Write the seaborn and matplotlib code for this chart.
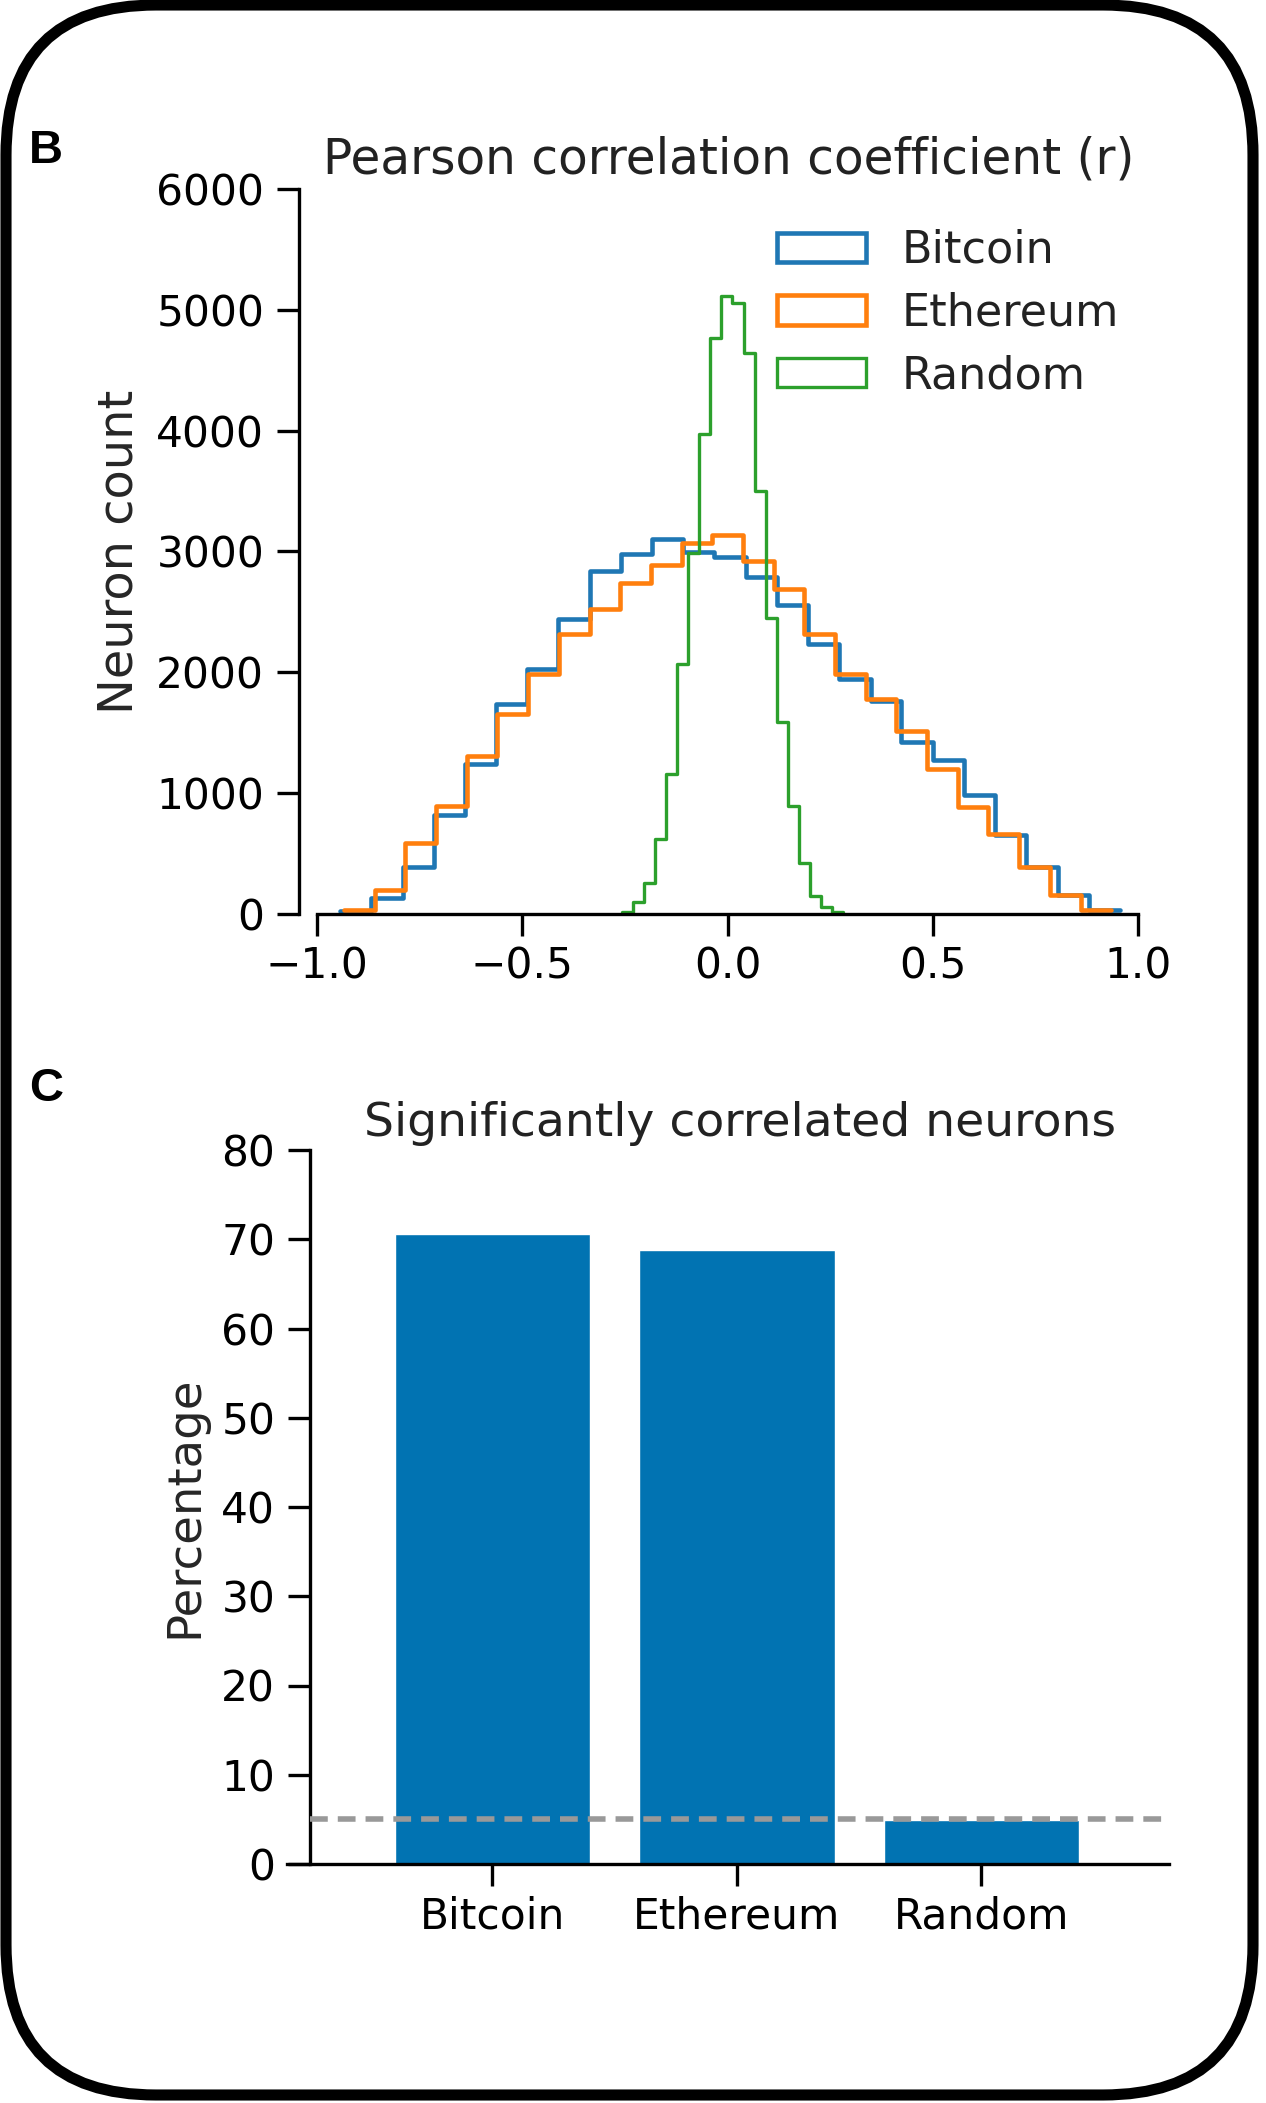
import numpy as np
import pandas as pd
import seaborn as sns
import matplotlib.pyplot as plt
from matplotlib.patches import Patch, FancyBboxPatch
from matplotlib.transforms import IdentityTransform

# panel B: histogram bin edges and neuron counts
btc_edges = [-0.943, -0.867, -0.791, -0.715, -0.640, -0.564, -0.488, -0.412, -0.336,
             -0.260, -0.184, -0.108, -0.032, 0.044, 0.120, 0.196, 0.272, 0.348,
             0.423, 0.499, 0.575, 0.651, 0.727, 0.803, 0.879, 0.955]
btc_counts = [25, 132, 390, 817, 1243, 1738, 2027, 2440, 2838, 2976, 3100, 2995, 2954,
              2789, 2558, 2233, 1944, 1766, 1422, 1271, 982, 652, 390, 157, 33]

eth_edges = [-0.934, -0.859, -0.784, -0.710, -0.635, -0.560, -0.486, -0.411, -0.336,
             -0.262, -0.187, -0.112, -0.038, 0.037, 0.112, 0.187, 0.262, 0.336,
             0.411, 0.486, 0.560, 0.635, 0.710, 0.784, 0.859, 0.934]
eth_counts = [30, 198, 589, 891, 1309, 1656, 1986, 2316, 2522, 2742, 2888, 3072, 3135,
              2921, 2687, 2316, 1986, 1780, 1518, 1202, 885, 666, 390, 157, 33]

rnd_edges = [-0.258, -0.231, -0.204, -0.177, -0.150, -0.123, -0.096, -0.069, -0.042,
             -0.015, 0.012, 0.039, 0.066, 0.093, 0.120, 0.147, 0.174, 0.201,
             0.228, 0.255, 0.282]
rnd_counts = [15, 101, 258, 624, 1161, 2068, 2990, 3971, 4763, 5116, 5058, 4639, 3498,
              2453, 1587, 891, 418, 149, 60, 15]

hist_labels = ["Bitcoin", "Ethereum", "Random"]
hist_colors = ["#1f77b4", "#ff7f0e", "#2ca02c"]
hist_lw = [3.3, 3.3, 2.4]

# panel C: percentage of significantly correlated neurons
coins = ["Bitcoin", "Ethereum", "Random"]
sig_pct = [70.6, 68.8, 4.9]
chance = 5

sns.set_style("ticks")
plt.rcParams["font.family"] = ["DejaVu Sans"]
plt.rcParams["axes.linewidth"] = 2.4
plt.rcParams["xtick.major.width"] = 2.4
plt.rcParams["ytick.major.width"] = 2.4
plt.rcParams["xtick.major.size"] = 16
plt.rcParams["ytick.major.size"] = 16
plt.rcParams["xtick.labelsize"] = 30.5
plt.rcParams["ytick.labelsize"] = 30.5
plt.rcParams["axes.edgecolor"] = "black"
plt.rcParams["xtick.color"] = "black"
plt.rcParams["ytick.color"] = "black"
plt.rcParams["text.color"] = "#222222"

W, H = 1266, 2103
fig = plt.figure(figsize=(W / 100, H / 100), dpi=100)

def px_axes(left, top, right, bottom):
    return fig.add_axes([left / W, (H - bottom) / H, (right - left) / W, (bottom - top) / H])

# ---- panel B
ax1 = px_axes(299, 189, 1159, 914)
all_edges = [btc_edges, eth_edges, rnd_edges]
all_counts = [btc_counts, eth_counts, rnd_counts]
for edges, counts, lab, col, lw in zip(all_edges, all_counts, hist_labels, hist_colors, hist_lw):
    e = np.array(edges)
    df = pd.DataFrame({"r": (e[:-1] + e[1:]) / 2, "n": counts})
    sns.histplot(data=df, x="r", weights="n", bins=list(edges), element="step", fill=False,
                 color=col, linewidth=lw, ax=ax1)

ax1.set_xlim(-1.043, 1.05)
ax1.set_ylim(0, 6000)
ax1.set_xticks([-1.0, -0.5, 0.0, 0.5, 1.0])
ax1.set_yticks(range(0, 6001, 1000))
ax1.set_xlabel("")
ax1.set_ylabel("Neuron count", fontsize=34.5, labelpad=10)
ax1.set_title("Pearson correlation coefficient (r)", fontsize=35, pad=11)
ax1.tick_params(axis="x", pad=7)
ax1.tick_params(axis="y", pad=9)
sns.despine(ax=ax1)
ax1.spines["bottom"].set_bounds(-1, 1)
ax1.spines["left"].set_bounds(0, 6000)

handles = [Patch(facecolor="none", edgecolor=c, linewidth=lw) for c, lw in zip(hist_colors, hist_lw)]
ax1.legend(handles, hist_labels, loc="upper right", frameon=False, fontsize=32,
           labelspacing=0.44, handlelength=2.0, handleheight=0.65, handletextpad=0.8)

# ---- panel C
ax2 = px_axes(310, 1150, 1169, 1864)
sns.barplot(x=coins, y=sig_pct, color=sns.color_palette("colorblind")[0],
            saturation=1, width=0.8, ax=ax2)
ax2.axhline(chance, color="#999999", linestyle=(0, (3.2, 1.8)), linewidth=4, zorder=3)
ax2.set_xlim(-0.746, 2.767)
ax2.set_ylim(0, 80)
ax2.set_yticks(range(0, 81, 10))
ax2.set_ylabel("Percentage", fontsize=33.5, labelpad=10)
ax2.set_xlabel("")
ax2.set_title("Significantly correlated neurons", fontsize=34, pad=10)
ax2.tick_params(axis="x", pad=7, labelsize=30.5)
ax2.tick_params(axis="y", pad=9)
sns.despine(ax=ax2)
ax2.spines["bottom"].set_bounds(-0.841, 2.767)

# panel letters
fig.text(29 / W, 1 - 163 / H, "B", fontsize=34, fontweight="bold",
         family=["Liberation Sans", "DejaVu Sans"], color="black", va="baseline")
fig.text(29 / W, 1 - 1101 / H, "C", fontsize=34, fontweight="bold",
         family=["Liberation Sans", "DejaVu Sans"], color="black", va="baseline")

# rounded frame around the whole figure
frame = FancyBboxPatch((6, 8), 1247, 2090, boxstyle="round,pad=0,rounding_size=150",
                       transform=IdentityTransform(), fill=False, edgecolor="black",
                       linewidth=8)
fig.add_artist(frame)

fig.savefig("out.png", dpi=100)
